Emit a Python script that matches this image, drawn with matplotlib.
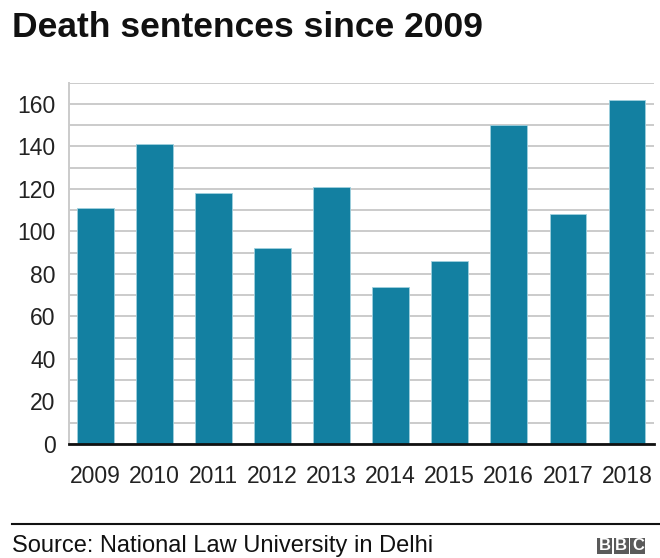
import matplotlib
matplotlib.use("Agg")
import matplotlib.pyplot as plt
from matplotlib.patches import Rectangle
from matplotlib.lines import Line2D

plt.rcParams['font.family'] = ['Liberation Sans', 'DejaVu Sans']

# data
years = ['2009', '2010', '2011', '2012', '2013', '2014', '2015', '2016', '2017', '2018']
sentences = [111, 141, 118, 92, 121, 74, 86, 150, 108, 162]
y_ticks = [0, 20, 40, 60, 80, 100, 120, 140, 160]
grid_lines = [10, 30, 50, 70, 90, 110, 130, 150, 170]

BAR_COLOR = '#1380A1'
GRID_COLOR = '#cbcbcb'
TEXT_COLOR = '#222222'

fig = plt.figure(figsize=(6.6, 5.58), dpi=100)
ax = fig.add_axes([0.105, 0.2043, 0.886, 0.6475])

x = list(range(len(years)))
ax.bar(x, sentences, width=0.62, color=BAR_COLOR, edgecolor='#9fd0de',
       linewidth=0.6, zorder=3)

ax.set_xlim(-0.44, 9.46)
ax.set_ylim(0, 170)
ax.set_yticks(y_ticks)
ax.set_yticks(grid_lines, minor=True)
ax.set_xticks(x)
ax.set_xticklabels(years)

ax.grid(axis='y', which='both', color=GRID_COLOR, linewidth=1.4, zorder=0)
ax.tick_params(axis='both', which='both', length=0, labelsize=16.5,
               labelcolor=TEXT_COLOR)
ax.tick_params(axis='x', pad=15)
ax.tick_params(axis='y', pad=10)

for side in ['top', 'right']:
    ax.spines[side].set_visible(False)
ax.spines['left'].set_color(GRID_COLOR)
ax.spines['left'].set_linewidth(1.4)
ax.spines['bottom'].set_color('#111111')
ax.spines['bottom'].set_linewidth(2.0)
ax.spines['bottom'].set_zorder(4)

# title
fig.text(12 / 660, 1 - 37 / 558, 'Death sentences since 2009',
         fontsize=25.5, fontweight='bold', color='#111111', va='baseline', ha='left')

# footer rule and source
fig.add_artist(Line2D([12 / 660, 659 / 660], [1 - 524 / 558, 1 - 524 / 558],
                      color='#111111', linewidth=1.5))
fig.text(12 / 660, 1 - 552 / 558, 'Source: National Law University in Delhi',
         fontsize=17, color='#111111', va='baseline', ha='left')

# BBC blocks
for i, letter in enumerate('BBC'):
    x0 = 597 + i * 16.7
    fig.add_artist(Rectangle((x0 / 660, 1 - 554 / 558), 15 / 660, 16 / 558,
                             transform=fig.transFigure, color='#5a5a5a', lw=0))
    fig.text((x0 + 7.5) / 660, 1 - 546 / 558, letter, fontsize=12,
             fontweight='bold', color='white', ha='center', va='center')

fig.savefig('out.png', dpi=100)
